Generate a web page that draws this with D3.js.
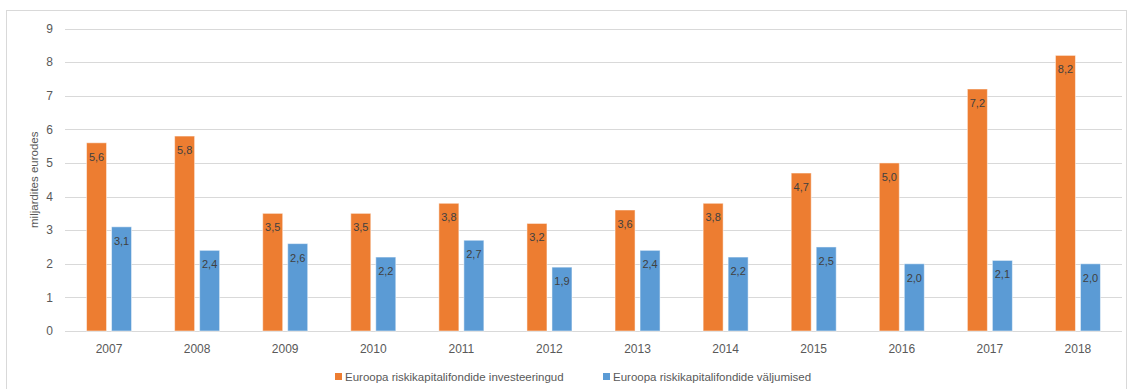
<!DOCTYPE html>
<html>
<head>
<meta charset="utf-8">
<script src="https://cdn.jsdelivr.net/npm/d3@7"></script>
<style>
  body { margin: 0; background: #fff; }
  svg { display: block; font-family: "Liberation Sans", Arial, sans-serif; }
</style>
</head>
<body>
<svg id="chart" width="1129" height="389"></svg>
<script>
const years = ["2007","2008","2009","2010","2011","2012","2013","2014","2015","2016","2017","2018"];
const investments = [5.6, 5.8, 3.5, 3.5, 3.8, 3.2, 3.6, 3.8, 4.7, 5.0, 7.2, 8.2];
const exits = [3.1, 2.4, 2.6, 2.2, 2.7, 1.9, 2.4, 2.2, 2.5, 2.0, 2.1, 2.0];
const yTicks = [0, 1, 2, 3, 4, 5, 6, 7, 8, 9];
const seriesNames = ["Euroopa riskikapitalifondide investeeringud", "Euroopa riskikapitalifondide väljumised"];
const seriesColors = ["#ED7D31", "#5B9BD5"];
const yTitle = "miljardites eurodes";

const svg = d3.select("#chart");
const W = 1129, H = 389;

// outer frame
svg.append("rect")
  .attr("x", 6.5).attr("y", 10.5)
  .attr("width", 1120).attr("height", 385)
  .attr("fill", "#fff").attr("stroke", "#d9d9d9").attr("stroke-width", 1);

const plot = { left: 65, right: 1122, top: 28.5, bottom: 331 };

const x = d3.scaleBand().domain(years).range([plot.left, plot.right]);
const y = d3.scaleLinear().domain([0, 9]).range([plot.bottom, plot.top]);

// gridlines
svg.append("g")
  .selectAll("line").data(yTicks).join("line")
  .attr("x1", plot.left).attr("x2", plot.right)
  .attr("y1", d => Math.round(y(d)) + 0.5).attr("y2", d => Math.round(y(d)) + 0.5)
  .attr("stroke", "#d9d9d9").attr("stroke-width", 1);

// y tick labels
svg.append("g")
  .selectAll("text").data(yTicks).join("text")
  .attr("x", 53).attr("y", d => y(d))
  .attr("dy", "0.35em")
  .attr("text-anchor", "end")
  .attr("font-size", 12).attr("fill", "#595959")
  .text(d => d);

// y axis title
svg.append("text")
  .attr("transform", `translate(38,${(plot.top + plot.bottom) / 2}) rotate(-90)`)
  .attr("text-anchor", "middle")
  .attr("font-size", 11.5).attr("fill", "#595959")
  .text(yTitle);

// x tick labels
svg.append("g")
  .selectAll("text").data(years).join("text")
  .attr("x", d => x(d) + x.bandwidth() / 2)
  .attr("y", 353)
  .attr("text-anchor", "middle")
  .attr("font-size", 12).attr("fill", "#595959")
  .text(d => d);

const barW = 20, offset = 12.5;
const series = [investments, exits];

series.forEach((vals, si) => {
  const g = svg.append("g");
  const cx = (d, i) => x(years[i]) + x.bandwidth() / 2 + (si === 0 ? -offset : offset);
  g.selectAll("rect").data(vals).join("rect")
    .attr("x", (d, i) => cx(d, i) - barW / 2)
    .attr("y", d => y(d))
    .attr("width", barW)
    .attr("height", d => y(0) - y(d))
    .attr("fill", seriesColors[si])
    .attr("stroke", "#fff").attr("stroke-opacity", 0.5).attr("stroke-width", 1);
  g.selectAll("text").data(vals).join("text")
    .attr("x", (d, i) => cx(d, i))
    .attr("y", d => y(d) + 18)
    .attr("text-anchor", "middle")
    .attr("font-size", 11).attr("fill", "#404040")
    .text(d => d.toFixed(1).replace(".", ","));
});

// legend
const legendX = [335, 603];
seriesNames.forEach((name, i) => {
  svg.append("rect")
    .attr("x", legendX[i]).attr("y", 373)
    .attr("width", 7).attr("height", 7)
    .attr("fill", seriesColors[i]);
  svg.append("text")
    .attr("x", legendX[i] + 10).attr("y", 377)
    .attr("dy", "0.35em")
    .attr("font-size", 11.5).attr("fill", "#595959")
    .text(name);
});
</script>
</body>
</html>
